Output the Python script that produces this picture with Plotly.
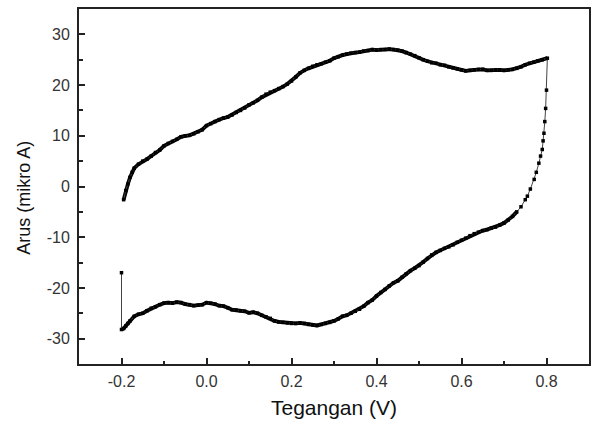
import plotly.graph_objects as go

# Start point of the scan
start_v = [-0.2]
start_i = [-17.0]

# Forward (lower) branch: -0.2 V -> 0.73 V
lower_v = [-0.2, -0.195, -0.19, -0.185, -0.18, -0.17, -0.16, -0.15, -0.14, -0.13,
           -0.12, -0.11, -0.10, -0.09, -0.08, -0.07, -0.06, -0.05, -0.04, -0.03,
           -0.02, -0.01, 0.00, 0.01, 0.02, 0.03, 0.04, 0.05, 0.06, 0.07,
           0.08, 0.09, 0.10, 0.11, 0.12, 0.13, 0.14, 0.15, 0.16, 0.17,
           0.18, 0.19, 0.20, 0.21, 0.22, 0.23, 0.24, 0.25, 0.26, 0.27,
           0.28, 0.29, 0.30, 0.31, 0.32, 0.33, 0.34, 0.35, 0.36, 0.37,
           0.38, 0.39, 0.40, 0.41, 0.42, 0.43, 0.44, 0.45, 0.46, 0.47,
           0.48, 0.49, 0.50, 0.51, 0.52, 0.53, 0.54, 0.55, 0.56, 0.57,
           0.58, 0.59, 0.60, 0.61, 0.62, 0.63, 0.64, 0.65, 0.66, 0.67,
           0.68, 0.69, 0.70, 0.71, 0.72, 0.73]
lower_i = [-28.2, -28.0, -27.5, -27.0, -26.5, -25.6, -25.2, -25.0, -24.5, -24.0,
           -23.7, -23.3, -23.0, -22.9, -23.0, -22.8, -22.9, -23.2, -23.3, -23.5,
           -23.4, -23.3, -22.9, -23.0, -23.2, -23.5, -23.6, -23.9, -24.3, -24.4,
           -24.5, -24.6, -24.9, -24.8, -25.0, -25.4, -25.7, -26.0, -26.5, -26.7,
           -26.8, -26.9, -27.0, -27.0, -26.9, -27.0, -27.2, -27.3, -27.4, -27.2,
           -27.0, -26.8, -26.5, -26.1, -25.6, -25.4, -25.0, -24.6, -24.2, -23.6,
           -22.9, -22.4, -21.6, -20.9, -20.3, -19.6, -19.0, -18.6, -17.9, -17.2,
           -16.6, -16.1, -15.6, -14.9, -14.2, -13.5, -13.0, -12.6, -12.2, -11.9,
           -11.5, -11.0, -10.6, -10.2, -9.7, -9.3, -9.0, -8.7, -8.5, -8.2,
           -8.0, -7.6, -7.2, -6.6, -5.9, -5.0]

# Steep rise near the switching potential
rise_v = [0.74, 0.75, 0.755, 0.762, 0.771, 0.776, 0.782, 0.786, 0.790, 0.792,
          0.794, 0.796, 0.798, 0.800]
rise_i = [-4.0, -2.6, -1.9, -0.5, 1.4, 2.8, 4.6, 6.0, 7.3, 9.0,
          10.5, 12.8, 15.4, 19.0]

# Reverse (upper) branch: 0.8 V -> -0.2 V
upper_v = [0.802, 0.79, 0.78, 0.77, 0.76, 0.75, 0.74, 0.73, 0.72, 0.71,
           0.70, 0.69, 0.68, 0.67, 0.66, 0.65, 0.64, 0.63, 0.62, 0.61,
           0.60, 0.59, 0.58, 0.57, 0.56, 0.55, 0.54, 0.53, 0.52, 0.51,
           0.50, 0.49, 0.48, 0.47, 0.46, 0.45, 0.44, 0.43, 0.42, 0.41,
           0.40, 0.39, 0.38, 0.37, 0.36, 0.35, 0.34, 0.33, 0.32, 0.31,
           0.30, 0.29, 0.28, 0.27, 0.26, 0.25, 0.24, 0.23, 0.22, 0.21,
           0.20, 0.19, 0.18, 0.17, 0.16, 0.15, 0.14, 0.13, 0.12, 0.11,
           0.10, 0.09, 0.08, 0.07, 0.06, 0.05, 0.04, 0.03, 0.02, 0.01,
           0.00, -0.01, -0.02, -0.03, -0.04, -0.05, -0.06, -0.07, -0.08, -0.09,
           -0.10, -0.11, -0.12, -0.13, -0.14, -0.15, -0.16, -0.17, -0.175, -0.18,
           -0.185, -0.19, -0.195]
upper_i = [25.3, 25.0, 24.8, 24.5, 24.3, 24.0, 23.6, 23.3, 23.1, 23.0,
           22.9, 23.0, 23.0, 22.9, 22.9, 23.1, 23.1, 23.0, 22.9, 22.8,
           23.0, 23.2, 23.4, 23.6, 23.9, 24.0, 24.3, 24.4, 24.7, 25.0,
           25.4, 25.8, 26.1, 26.4, 26.7, 26.9, 27.0, 27.1, 27.0, 27.0,
           26.9, 27.0, 26.8, 26.7, 26.5, 26.4, 26.3, 26.1, 25.9, 25.6,
           25.3, 24.8, 24.5, 24.2, 24.0, 23.7, 23.3, 22.9, 22.4, 21.6,
           20.8, 20.2, 19.7, 19.3, 18.9, 18.6, 18.2, 17.6, 17.0, 16.5,
           16.1, 15.5, 15.0, 14.6, 14.1, 13.7, 13.5, 13.2, 12.8, 12.4,
           12.0, 11.2, 10.8, 10.4, 10.1, 10.0, 9.8, 9.3, 8.9, 8.5,
           8.0, 7.2, 6.7, 6.0, 5.4, 5.0, 4.4, 3.6, 2.8, 1.8,
           0.5, -0.8, -2.6]

# Tick labels (hyphen-minus as in the reference)
x_tick_vals = [-0.2, 0.0, 0.2, 0.4, 0.6, 0.8]
x_tick_text = ["-0.2", "0.0", "0.2", "0.4", "0.6", "0.8"]
y_tick_vals = [-30, -20, -10, 0, 10, 20, 30]
y_tick_text = ["-30", "-20", "-10", "0", "10", "20", "30"]

x_title = "Tegangan (V)"
y_title = "Arus (mikro A)"

all_v = start_v + lower_v + rise_v + upper_v
all_i = start_i + lower_i + rise_i + upper_i

FONT = "Liberation Sans, Arial, sans-serif"

fig = go.Figure()
# thick overlays for the densely sampled branches
fig.add_trace(go.Scatter(x=lower_v, y=lower_i, mode="lines",
                         line=dict(color="black", width=3.8), hoverinfo="skip",
                         showlegend=False))
fig.add_trace(go.Scatter(x=upper_v, y=upper_i, mode="lines",
                         line=dict(color="black", width=3.8), hoverinfo="skip",
                         showlegend=False))
# full scan with thin connecting line and square markers
fig.add_trace(go.Scatter(x=all_v, y=all_i, mode="lines+markers",
                         line=dict(color="#444444", width=1),
                         marker=dict(symbol="square", size=3.5, color="black"),
                         showlegend=False))

axis_common = dict(
    showgrid=False, zeroline=False, automargin=False,
    showline=True, linecolor="#222222", linewidth=1.8, mirror=True,
    ticks="inside", tickcolor="#222222", tickwidth=1.5,
    tickfont=dict(family=FONT, size=16, color="#333333"),
)

fig.update_xaxes(range=[-0.3, 0.9], tickmode="array",
                 tickvals=x_tick_vals, ticktext=x_tick_text, ticklen=6,
                 ticklabelstandoff=2,
                 minor=dict(ticks="inside", dtick=0.1, tick0=-0.3, ticklen=3,
                            tickcolor="#222222", tickwidth=1.5),
                 title=dict(text=x_title, standoff=11,
                            font=dict(family=FONT, size=21, color="#111111")),
                 **axis_common)
fig.update_yaxes(range=[-35, 35], tickmode="array",
                 tickvals=y_tick_vals, ticktext=y_tick_text, ticklen=6,
                 ticklabelstandoff=4,
                 minor=dict(ticks="inside", dtick=5, tick0=-35, ticklen=4,
                            tickcolor="#222222", tickwidth=1.5),
                 **axis_common)

fig.add_annotation(text=y_title, textangle=-90, showarrow=False,
                   xref="paper", yref="paper", x=-0.108, y=0.468,
                   xanchor="center", yanchor="middle",
                   font=dict(family=FONT, size=18, color="#111111"))

fig.update_layout(
    width=594, height=421,
    margin=dict(l=79, r=5, t=9, b=57),
    paper_bgcolor="white", plot_bgcolor="white",
)

fig.write_html("out.html",
               config={"displayModeBar": False},
               post_script="document.body.style.margin='0';")
